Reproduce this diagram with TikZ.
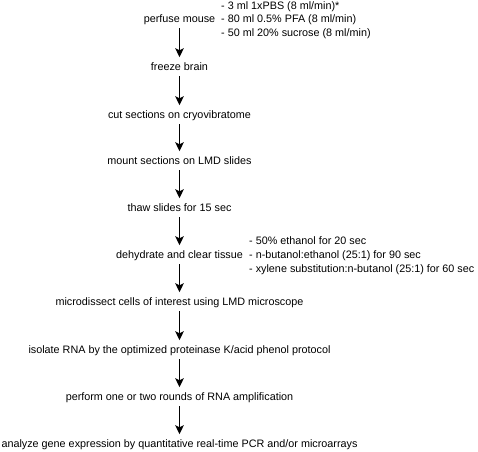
\documentclass[tikz,border=0pt]{standalone}
\usepackage{fontspec}
\setmainfont{Liberation Sans}
\usetikzlibrary{arrows.meta}
\begin{document}
\begin{tikzpicture}[x=1pt,y=-1pt,
  stepnode/.style={font=\fontsize{10.8}{13}\selectfont, inner xsep=0pt, inner ysep=5.2pt, text height=8pt, text depth=0pt, anchor=mid},
  sidenode/.style={font=\fontsize{10.8}{13}\selectfont, inner sep=0pt, anchor=mid west},
  flow/.style={line width=1.6pt, -{Stealth[length=9pt,width=8.5pt,inset=2pt]}}]
\useasboundingbox (0,0) rectangle (478,451);
\node[stepnode] (s1) at (179.5,20) {perfuse mouse};
\node[stepnode] (s2) at (179.5,68) {freeze brain};
\node[stepnode] (s3) at (179.5,116) {cut sections on cryovibratome};
\node[stepnode] (s4) at (179.5,162) {mount sections on LMD slides};
\node[stepnode] (s5) at (179.5,209) {thaw slides for 15 sec};
\node[stepnode] (s6) at (179.5,256) {dehydrate and clear tissue};
\node[stepnode] (s7) at (179.5,303) {microdissect cells of interest using LMD microscope};
\node[stepnode] (s8) at (179.5,351) {isolate RNA by the optimized proteinase K/acid phenol protocol};
\node[stepnode] (s9) at (179.5,398) {perform one or two rounds of RNA amplification};
\node[stepnode] (s10) at (179.5,445) {analyze gene expression by quantitative real-time PCR and/or microarrays};
\node[sidenode] (a1) at (221,6.5) {- 3 ml 1xPBS (8 ml/min)*};
\node[sidenode] (a2) at (221,20) {- 80 ml 0.5\% PFA (8 ml/min)};
\node[sidenode] (a3) at (221,33.5) {- 50 ml 20\% sucrose (8 ml/min)};
\node[sidenode] (b1) at (249,242) {- 50\% ethanol for 20 sec};
\node[sidenode] (b2) at (249,256) {- n-butanol:ethanol (25:1) for 90 sec};
\node[sidenode] (b3) at (249,270) {- xylene substitution:n-butanol (25:1) for 60 sec};
\foreach \i/\j in {s1/s2,s2/s3,s3/s4,s4/s5,s5/s6,s6/s7,s7/s8,s8/s9,s9/s10}
  \draw[flow] (\i.south) -- (\j.north);
\end{tikzpicture}
\end{document}
